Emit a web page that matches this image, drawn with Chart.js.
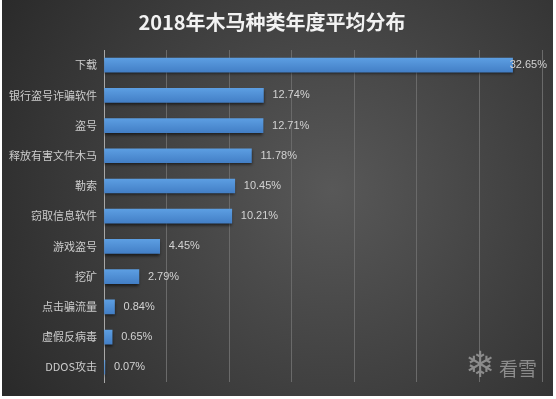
<!DOCTYPE html>
<html>
<head>
<meta charset="utf-8">
<script src="https://cdn.jsdelivr.net/npm/chart.js@4"></script>
<style>
  html, body { margin: 0; padding: 0; background: #fff; }
  #wrap { position: absolute; left: 2px; top: 0; width: 551px; height: 396px; }
</style>
</head>
<body>
<div id="wrap"><canvas id="trojanChart"></canvas></div>
<script>
const categories = ['下载', '银行盗号诈骗软件', '盗号', '释放有害文件木马', '勒索', '窃取信息软件',
                    '游戏盗号', '挖矿', '点击骗流量', '虚假反病毒', 'DDOS攻击'];
const shares = [32.65, 12.74, 12.71, 11.78, 10.45, 10.21, 4.45, 2.79, 0.84, 0.65, 0.07];
const chartTitle = '2018年木马种类年度平均分布';
const watermark = '看雪';

// dark gradient backdrop
const backdrop = {
    id: 'backdrop',
    beforeDraw(chart) {
        const ctx = chart.ctx;
        const g = ctx.createRadialGradient(330, 190, 0, 330, 190, 400);
        g.addColorStop(0, '#585858');
        g.addColorStop(1, '#282828');
        ctx.save();
        ctx.fillStyle = g;
        ctx.fillRect(0, 0, chart.width, chart.height);
        ctx.restore();
    }
};

// shadow under the bars
const barShadow = {
    id: 'barShadow',
    beforeDatasetsDraw(chart) {
        const ctx = chart.ctx;
        ctx.save();
        ctx.shadowColor = 'rgba(0,0,0,0.6)';
        ctx.shadowBlur = 3;
        ctx.shadowOffsetY = 2;
    },
    afterDatasetsDraw(chart) {
        chart.ctx.restore();
    }
};

// value labels + watermark
const valueLabels = {
    id: 'valueLabels',
    afterDatasetsDraw(chart) {
        const ctx = chart.ctx;
        const meta = chart.getDatasetMeta(0);
        ctx.save();
        ctx.font = '11px "Liberation Sans", Arial, sans-serif';
        ctx.fillStyle = '#d2d2d2';
        ctx.textBaseline = 'middle';
        meta.data.forEach((bar, i) => {
            const txt = shares[i].toFixed(2) + '%';
            const w = ctx.measureText(txt).width;
            let x = bar.x + 9;
            if (x + w > chart.width - 6) x = chart.width - 6 - w;
            ctx.fillText(txt, x, bar.y);
        });

        ctx.fillStyle = '#8c8c8c';
        ctx.textAlign = 'center';
        ctx.font = '36px "DejaVu Sans", sans-serif';
        ctx.fillText('\u2744', 478, 368);
        ctx.textAlign = 'left';
        ctx.font = '19px "Noto Sans CJK SC", sans-serif';
        ctx.fillText(watermark, 497, 369);
        ctx.restore();
    }
};

const ctx = document.getElementById('trojanChart').getContext('2d');

new Chart(ctx, {
    type: 'bar',
    data: {
        labels: categories,
        datasets: [{
            data: shares,
            barThickness: 14,
            borderWidth: 0,
            backgroundColor: (c) => {
                const chart = c.chart;
                const ys = chart.scales && chart.scales.y;
                const y = ys ? ys.getPixelForValue(c.dataIndex) : NaN;
                if (!isFinite(y)) return '#4f8fd6';
                const g = chart.ctx.createLinearGradient(0, y - 7, 0, y + 7);
                g.addColorStop(0, '#5c9ee2');
                g.addColorStop(1, '#437fc6');
                return g;
            }
        }]
    },
    options: {
        indexAxis: 'y',
        responsive: true,
        maintainAspectRatio: false,
        animation: false,
        layout: {
            padding: { top: 10, left: 0, right: 11, bottom: 12 }
        },
        plugins: {
            legend: { display: false },
            tooltip: { enabled: false },
            title: {
                display: true,
                text: chartTitle,
                color: '#f2f2f2',
                font: { size: 20, weight: 'bold', family: '"Noto Sans CJK SC", sans-serif' },
                padding: { top: 0, bottom: 16 }
            }
        },
        scales: {
            x: {
                min: 0,
                max: 35,
                ticks: { display: false, stepSize: 5 },
                grid: { color: '#6a6a6a', lineWidth: 1, drawTicks: false },
                border: { display: false }
            },
            y: {
                afterFit(scale) { scale.width = 102; },
                ticks: {
                    color: '#cccccc',
                    padding: 7,
                    font: { size: 11, family: '"Noto Sans CJK SC", sans-serif' }
                },
                grid: { display: false, drawTicks: false },
                border: { display: true, color: '#a8a8a8', width: 1 }
            }
        }
    },
    plugins: [backdrop, barShadow, valueLabels]
});
</script>
</body>
</html>
